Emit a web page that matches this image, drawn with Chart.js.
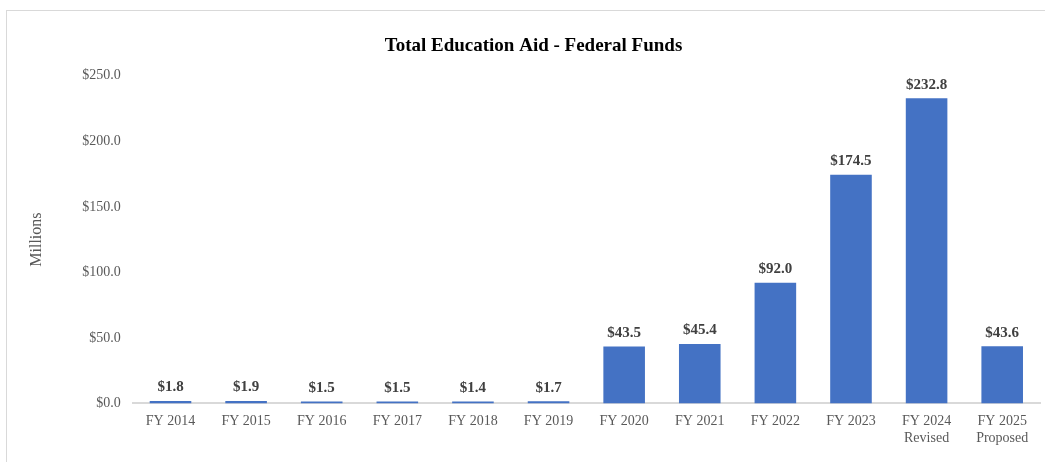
<!DOCTYPE html>
<html>
<head>
<meta charset="utf-8">
<script src="https://cdn.jsdelivr.net/npm/chart.js@4"></script>
<style>
    html, body { margin: 0; padding: 0; background: #fff; }
    #wrap { position: relative; width: 1045px; height: 462px; }
    #frame { position: absolute; left: 6px; top: 10px; right: 0; bottom: 0; border-left: 1px solid #d9d9d9; border-top: 1px solid #d9d9d9; }
    canvas { position: absolute; left: 0; top: 0; }
</style>
</head>
<body>
<div id="wrap">
    <div id="frame"></div>
    <canvas id="aidChart" width="1045" height="462"></canvas>
</div>
<script>
const fiscalYears = ['FY 2014', 'FY 2015', 'FY 2016', 'FY 2017', 'FY 2018', 'FY 2019',
    'FY 2020', 'FY 2021', 'FY 2022', 'FY 2023', ['FY 2024', 'Revised'], ['FY 2025', 'Proposed']];
const federalFunds = [1.8, 1.9, 1.5, 1.5, 1.4, 1.7, 43.5, 45.4, 92.0, 174.5, 232.8, 43.6];
const yTicks = [0, 50, 100, 150, 200, 250];

const money = function(v) {
    return '$' + Number(v).toFixed(1);
};

// value labels above each bar
const barLabels = {
    id: 'barLabels',
    afterDatasetsDraw(chart) {
        const ctx = chart.ctx;
        const meta = chart.getDatasetMeta(0);
        ctx.save();
        ctx.font = 'bold 15px "Liberation Serif"';
        ctx.fillStyle = '#404040';
        ctx.textAlign = 'center';
        ctx.textBaseline = 'bottom';
        meta.data.forEach(function(bar, i) {
            ctx.fillText(money(chart.data.datasets[0].data[i]), bar.x, bar.y - 6);
        });
        ctx.restore();
    }
};

new Chart(document.getElementById('aidChart').getContext('2d'), {
    type: 'bar',
    data: {
        labels: fiscalYears,
        datasets: [{
            label: 'Federal Funds',
            data: federalFunds,
            backgroundColor: '#4472C4',
            categoryPercentage: 1,
            barPercentage: 0.55
        }]
    },
    options: {
        responsive: false,
        animation: false,
        layout: { padding: { left: 27, right: 5, top: 35, bottom: 13 } },
        plugins: {
            legend: { display: false },
            tooltip: { enabled: false },
            title: {
                display: true,
                text: 'Total Education Aid - Federal Funds',
                color: '#000',
                font: { family: 'Liberation Serif', size: 19, weight: 'bold' },
                padding: { top: 0, bottom: 18 }
            }
        },
        scales: {
            x: {
                grid: { display: false },
                border: { color: '#d9d9d9', width: 2 },
                ticks: {
                    color: '#595959',
                    font: { family: 'Liberation Serif', size: 14 },
                    maxRotation: 0,
                    autoSkip: false,
                    padding: 2
                }
            },
            y: {
                min: 0,
                max: 250,
                afterBuildTicks: function(axis) {
                    axis.ticks = yTicks.map(function(v) { return { value: v }; });
                },
                grid: { display: false },
                border: { display: false },
                ticks: {
                    color: '#595959',
                    font: { family: 'Liberation Serif', size: 14 },
                    padding: 4,
                    callback: money
                },
                title: {
                    display: true,
                    text: 'Millions',
                    color: '#595959',
                    font: { family: 'Liberation Serif', size: 16 },
                    padding: { top: 0, bottom: 32 }
                }
            }
        }
    },
    plugins: [barLabels]
});
</script>
</body>
</html>
